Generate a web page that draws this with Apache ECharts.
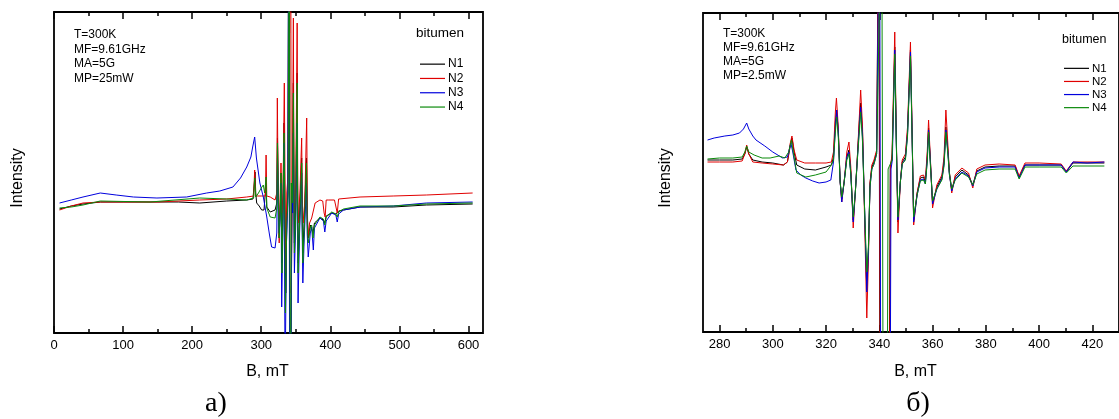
<!DOCTYPE html>
<html>
<head>
<meta charset="utf-8">
<script src="https://cdn.jsdelivr.net/npm/echarts@6/dist/echarts.min.js"></script>
<style>html,body{margin:0;padding:0;background:#fff;}#c{width:1119px;height:419px;}</style>
</head>
<body>
<div id="c"></div>
<script>
// ---------- data ----------
const seriesNames = ['N1', 'N2', 'N3', 'N4'];
const seriesColors = ['#000000', '#e00000', '#0000dd', '#0b8a0b'];

const leftTicksMajor = [0, 100, 200, 300, 400, 500, 600];
const leftTicksMinor = [50, 150, 250, 350, 450, 550];
const rightTicksMajor = [280, 300, 320, 340, 360, 380, 400, 420];
const rightTicksMinor = [290, 310, 330, 350, 370, 390, 410];

const leftInfo = ['T=300K', 'MF=9.61GHz', 'MA=5G', 'MP=25mW'];
const rightInfo = ['T=300K', 'MF=9.61GHz', 'MA=5G', 'MP=2.5mW'];

// panel a) : B (mT), intensity (arb. units)
const leftN1 = [[8,124],[25,127],[42,129],[67,131],[100,131],[139,131],[180,131],[211,130],[250,132],[279,133],[288,134],[290,150],[291,161],[292,140],[293.4,130],[297,127],[300.6,123],[304,123],[306.5,125],[307,150],[308,126],[313,121],[320,123],[322.5,130],[323.5,195],[325,130],[326,95],[327.5,130],[328.6,160],[329.3,120],[330,70],[331.5,130],[333,210],[334.3,120],[335.5,40],[337,120],[338.5,140],[340,500],[341.5,-200],[343.8,-200],[344.4,150],[345.3,140],[346.5,250],[347.5,140],[348,90],[350,130],[352,260],[352.7,140],[353.5,70],[355.5,120],[358.5,175],[359.3,120],[360.2,80],[362,110],[365.5,175],[366.5,120],[368,95],[371,108],[373,110],[375,100],[377,110],[385,115],[390,113],[392,110],[394,117],[402,120],[408,119],[410,118],[412,122],[419,123],[443,126],[491,126],[539,128],[606,129]];
const leftN2 = [[8,123],[25,127],[42,130],[67,131],[100,131],[150,131],[211,133],[250,134],[279,136],[289,137],[290.5,163],[292,137],[295,137],[300,137],[306,137],[307,178],[308,137],[313,136],[320,133],[322.5,140],[323.3,235],[324.5,140],[326,90],[327.5,140],[328.6,170],[329.3,140],[330,120],[331.5,140],[333.4,250],[334.5,140],[335.5,60],[337,140],[339,160],[340,480],[341,300],[342.7,420],[343.5,40],[345,150],[346.5,315],[347.3,150],[348,120],[350,150],[352,310],[352.8,150],[353.5,110],[356,140],[358.5,195],[359.3,140],[360.5,110],[363,130],[365.8,215],[366.7,130],[367.5,95],[370,110],[373,115],[378,130],[385,133],[389,132],[391,120],[392.5,116],[394,133],[397,133],[406,133],[408.5,125],[410,120],[412,134],[414,135],[443,136],[491,137],[539,138],[606,140]];
const leftN3 = [[8,130],[25,133],[42,136],[67,140],[90,138],[115,136],[149,135],[192,136],[221,140],[240,142],[259,146],[270,155],[279,166],[285,176],[287.6,186],[290.5,196],[293,175],[298,150],[303,136],[308,116],[312,98],[315,86],[320,85],[322.5,100],[323.5,175],[325,110],[326,100],[327.5,120],[328.6,150],[329.6,26],[331.5,110],[333,190],[334.5,-50],[336.5,90],[338.5,130],[340,500],[341.3,-200],[344,-200],[344.6,150],[345.5,120],[346.5,200],[347.5,100],[348,60],[350,110],[352,210],[352.7,100],[353.3,30],[355.5,100],[358.5,160],[359.3,100],[360.2,50],[362,90],[365.5,150],[366.5,100],[368,76],[371,100],[373,106],[375.4,83],[377,105],[385,115],[390,112],[392,101],[394,112],[402,120],[408,118],[410,111],[412,119],[419,123],[443,126],[491,127],[539,130],[606,131]];
const leftN4 = [[8,125],[25,126],[42,128],[67,132],[139,131],[211,135],[250,134],[279,133],[289,135],[290.5,155],[292,136],[296,140],[300,145],[303,148],[305,140],[307,156],[308,125],[313,116],[320,115],[322.5,125],[323.5,190],[325,120],[326,95],[327.5,120],[328.6,160],[329.3,110],[330,60],[331.5,120],[333,200],[334.3,110],[335,20],[337,110],[339,140],[340.5,500],[342.3,-200],[342.9,-200],[343.5,150],[345,130],[346.5,240],[347.5,120],[348,80],[350,120],[352,250],[352.7,120],[353.3,60],[355.5,110],[358.5,170],[359.3,110],[360.2,70],[362,100],[365.5,170],[366.5,110],[368,90],[371,105],[373,108],[375,95],[377,108],[385,116],[390,114],[392,108],[394,116],[402,121],[408,119],[410,116],[412,121],[419,124],[443,127],[491,127],[539,129],[606,130]];

// panel б)
const rightN1 = [[275.5,172],[280,172],[285,172],[288.5,173],[289.5,178],[290.2,185],[291,178],[292.5,172],[296,170],[300,169],[304,167],[305.5,170],[306.5,185],[307.2,194],[308,180],[309,167],[312,163],[316,162],[320,165],[322,167],[322.8,175],[323.5,210],[324,222],[324.6,200],[325.3,150],[325.9,133],[326.8,150],[327.8,175],[328.6,182],[329.3,160],[330.2,112],[331,140],[331.7,172],[332.5,210],[333,229],[333.7,200],[334.5,120],[335.3,42],[335.9,80],[336.5,149],[337.2,165],[338,170],[339,180],[339.8,450],[340.3,-150],[343.6,-150],[344.1,165],[344.8,175],[345.8,285],[346.4,190],[347,110],[347.9,150],[348.6,170],[349.8,175],[350.6,200],[351.7,282],[352.3,200],[352.9,112],[354.2,139],[355.4,154],[356.6,155],[357.3,150],[358,175],[358.5,204],[359.2,170],[360,129],[361.6,145],[363.5,155],[364.3,170],[365,205],[365.8,180],[366.3,160],[367.2,142],[368.5,155],[371,162],[373.5,157],[375.1,147],[376.6,161],[379.7,165],[385,166],[391,166],[392.5,155],[394.7,167],[400,167],[408.3,167],[410.2,160],[412.7,169],[418,169],[424.5,169]];
const rightN2 = [[275.5,170],[280,170],[285,170],[288.5,171],[289.5,178],[290.2,187],[291,178],[292.5,170],[296,169],[300,168],[304,167],[305.5,170],[306.5,188],[307.2,196],[308,182],[309,172],[312,169],[316,169],[320,169],[322,170],[322.8,180],[323.5,220],[323.9,234],[324.6,205],[325.3,150],[325.9,130],[326.8,150],[327.8,180],[328.6,190],[329.3,165],[330.2,104],[331,140],[331.7,172],[332.5,215],[333,242],[333.7,205],[334.5,110],[335.3,14],[335.9,70],[336.5,149],[337.2,167],[338,172],[339,182],[339.9,450],[340.4,-150],[343.7,-150],[344.2,165],[344.8,178],[345.8,300],[346.4,195],[347,99],[347.9,150],[348.6,172],[349.8,178],[350.6,205],[351.7,290],[352.3,205],[352.9,107],[354.2,139],[355.4,156],[356.6,157],[357.3,152],[358,180],[358.5,212],[359.2,172],[360,124],[361.6,147],[363.5,157],[364.3,175],[365,222],[365.8,185],[366.3,160],[367.2,139],[368.5,157],[371,164],[373.5,159],[375.1,144],[376.6,163],[379.7,167],[385,168],[391,167],[392.5,156],[394.7,169],[400,169],[408.3,168],[410.2,161],[412.7,170],[418,170],[424.5,170]];
const rightN3 = [[275.5,192],[278,194],[282,196],[285,197],[287.5,199],[289,203],[290.2,209],[291,203],[292.5,196],[293.7,192],[297,186],[300,180],[303.7,174],[305.5,175],[306.8,189],[307.5,180],[308.7,162],[310.5,157],[312.4,154],[315,151],[317.4,149],[320,150],[321.8,152],[322.8,170],[323.5,205],[324,222],[324.6,200],[325.3,150],[325.9,130],[326.8,150],[327.8,175],[328.6,180],[329.3,158],[330.2,110],[331,140],[331.7,170],[332.5,205],[333,225],[333.7,195],[334.5,120],[335.3,40],[335.9,80],[336.5,145],[337.2,163],[338,168],[339,178],[340.1,450],[340.6,-150],[344,-150],[344.4,163],[344.9,172],[345.8,282],[346.4,188],[347,112],[347.9,150],[348.6,168],[349.8,173],[350.6,198],[351.7,280],[352.3,198],[352.9,110],[354.2,137],[355.4,152],[356.6,153],[357.3,148],[358,172],[358.5,202],[359.2,168],[360,128],[361.6,143],[363.5,153],[364.3,168],[365,202],[365.8,178],[366.3,158],[367.2,141],[368.5,153],[371,160],[373.5,156],[375.1,146],[376.6,160],[379.7,164],[385,165],[391,165],[392.5,154],[394.7,167],[400,167],[408.3,167],[410.2,160],[412.7,170],[418,169],[424.5,170]];
const rightN4 = [[275.5,173],[280,174],[285,174],[288.5,175],[289.5,180],[290.2,186],[291,180],[293,177],[296,174],[299,174],[302.4,176],[304.5,174],[306,180],[307,192],[307.8,178],[309,159],[312.4,155],[316,157],[320,160],[322,167],[322.8,172],[323.5,200],[324,215],[324.6,195],[325.3,150],[325.9,135],[326.8,150],[327.8,172],[328.6,178],[329.3,158],[330.2,115],[331,140],[331.7,170],[332.5,200],[333,220],[333.7,190],[334.5,120],[335.3,60],[335.9,85],[336.5,145],[337.2,163],[338,168],[339,178],[340.9,450],[341.5,-150],[342.9,-150],[343.3,163],[344.8,172],[345.8,278],[346.4,186],[347,115],[347.9,150],[348.6,168],[349.8,172],[350.6,196],[351.7,276],[352.3,196],[352.9,115],[354.2,137],[355.4,151],[356.6,152],[357.3,148],[358,170],[358.5,200],[359.2,166],[360,131],[361.6,143],[363.5,152],[364.3,166],[365,200],[365.8,176],[366.3,158],[367.2,143],[368.5,152],[371,159],[373.5,155],[375.1,147],[376.6,158],[379.7,162],[385,163],[391,163],[392.5,153],[394.7,165],[400,165],[408.3,165],[410.2,159],[412.7,166],[418,166],[424.5,166]];

const leftData = [leftN1, leftN2, leftN3, leftN4];
const rightData = [rightN1, rightN2, rightN3, rightN4];

// ---------- chart ----------
const FONT = 'Liberation Sans, Arial, sans-serif';
const chart = echarts.init(document.getElementById('c'), null, {renderer: 'canvas'});

function xAxes(grid, min, max, major, minor) {
  const base = {
    type: 'value', gridIndex: grid, min: min, max: max,
    axisLine: {show: false, onZero: false}, splitLine: {show: false}
  };
  const tick = (vals, len) => ({show: true, inside: true, length: len, customValues: vals,
    lineStyle: {color: '#000', width: 1.5}});
  return [
    Object.assign({}, base, {position: 'bottom', axisTick: tick(major, 7),
      axisLabel: {show: true, customValues: major, margin: 6, fontSize: 13, color: '#000', fontFamily: FONT}}),
    Object.assign({}, base, {position: 'top', axisTick: tick(major, 7), axisLabel: {show: false}}),
    Object.assign({}, base, {position: 'bottom', axisTick: tick(minor, 4), axisLabel: {show: false}}),
    Object.assign({}, base, {position: 'top', axisTick: tick(minor, 4), axisLabel: {show: false}})
  ];
}
function yAxis(grid, max) {
  return {type: 'value', gridIndex: grid, min: 0, max: max,
    axisLine: {show: false}, axisTick: {show: false}, axisLabel: {show: false}, splitLine: {show: false}};
}

const series = [];
[leftData, rightData].forEach((set, g) => {
  set.forEach((d, i) => {
    series.push({
      type: 'line', name: seriesNames[i], data: d,
      xAxisIndex: g * 4, yAxisIndex: g,
      symbol: 'none', showSymbol: false, clip: true,
      lineStyle: {color: seriesColors[i], width: 1},
      itemStyle: {color: seriesColors[i]},
      emphasis: {disabled: true}
    });
  });
});

function txt(x, y, s, size, extra) {
  return Object.assign({type: 'text', x: x, y: y, silent: true,
    style: Object.assign({text: s, fontSize: size, fontFamily: FONT, fill: '#000',
      textVerticalAlign: 'middle', textAlign: 'left'}, extra || {})});
}

const graphics = [];
leftInfo.forEach((s, i) => graphics.push(txt(74, 35 + i * 14.4, s, 12)));
rightInfo.forEach((s, i) => graphics.push(txt(723, 33.3 + i * 14.2, s, 12)));
graphics.push(txt(416, 33.5, 'bitumen', 13.5));
graphics.push(txt(1062, 40, 'bitumen', 12.5));
graphics.push(txt(267.5, 372, 'B, mT', 16, {textAlign: 'center'}));
graphics.push(txt(915.5, 372, 'B, mT', 16, {textAlign: 'center'}));
graphics.push(Object.assign(txt(18, 178, 'Intensity', 16, {textAlign: 'center'}), {rotation: Math.PI / 2}));
graphics.push(Object.assign(txt(666, 178, 'Intensity', 16, {textAlign: 'center'}), {rotation: Math.PI / 2}));
graphics.push(txt(216, 404, 'a)', 28, {textAlign: 'center', fontFamily: 'Liberation Serif, Times New Roman, serif'}));
graphics.push(txt(918, 404, 'б)', 28, {textAlign: 'center', fontFamily: 'Liberation Serif, Times New Roman, serif'}));

const option = {
  animation: false,
  backgroundColor: '#fff',
  textStyle: {fontFamily: FONT},
  grid: [
    {left: 54, top: 12, right: 636, bottom: 86, show: true, borderColor: '#000', borderWidth: 1.8, backgroundColor: 'transparent'},
    {left: 703, top: 13, right: -2, bottom: 87, show: true, borderColor: '#000', borderWidth: 1.8, backgroundColor: 'transparent'}
  ],
  xAxis: xAxes(0, 0, 621, leftTicksMajor, leftTicksMinor).concat(xAxes(1, 273.8, 430, rightTicksMajor, rightTicksMinor)),
  yAxis: [yAxis(0, 321), yAxis(1, 319)],
  legend: [
    {data: seriesNames, orient: 'vertical', left: 420, top: 57, padding: 0, itemGap: 0,
     itemWidth: 25, itemHeight: 1.2, icon: 'rect', selectedMode: false,
     textStyle: {fontSize: 12, lineHeight: 14.3, color: '#000', fontFamily: FONT, padding: [0, 0, 0, -2]}},
    {data: seriesNames, orient: 'vertical', left: 1064, top: 61.8, padding: 0, itemGap: 0,
     itemWidth: 25, itemHeight: 1.2, icon: 'rect', selectedMode: false,
     textStyle: {fontSize: 11.5, lineHeight: 13.1, color: '#000', fontFamily: FONT, padding: [0, 0, 0, -2]}}
  ],
  graphic: graphics,
  series: series
};
chart.setOption(option);
</script>
</body>
</html>
